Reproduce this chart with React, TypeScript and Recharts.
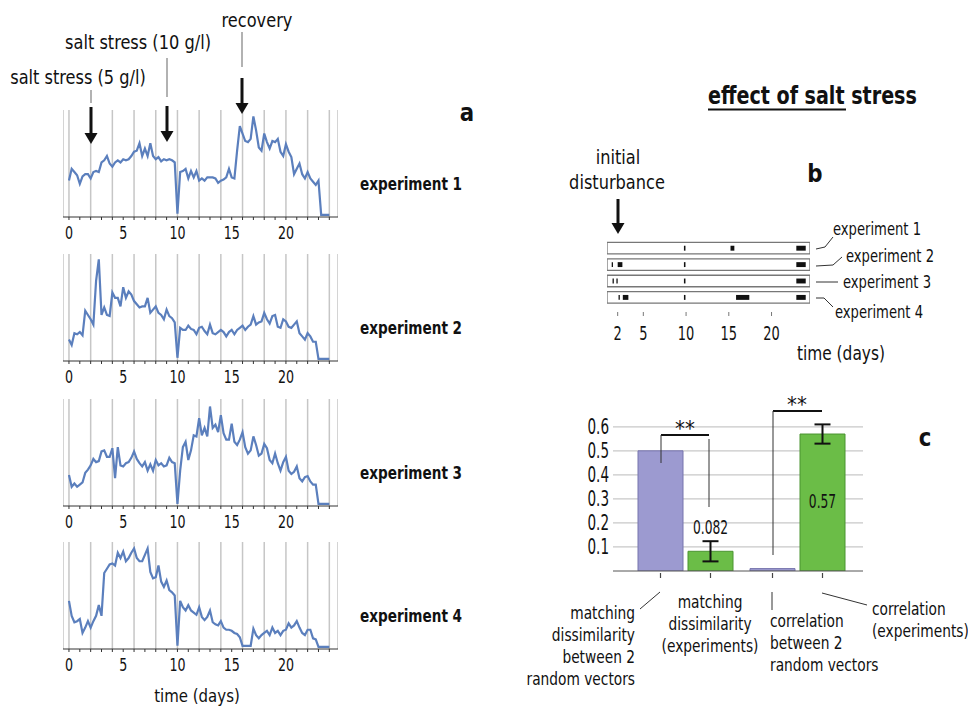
import {
  LineChart,
  Line,
  XAxis,
  YAxis,
  CartesianGrid,
  ComposedChart,
  Scatter,
  ReferenceArea,
  BarChart,
  Bar,
  ErrorBar,
} from "recharts";

const FONT = "'DejaVu Sans Condensed', 'DejaVu Sans', sans-serif";

// panel a: signal per experiment, one value every 6 hours (day 0 .. 24)
const STEP = 0.25;
const experiment1 = [
  34, 45, 42, 39, 31, 38, 40, 40,
  36, 42, 43, 42, 51, 53, 57, 50,
  47, 51, 53, 51, 54, 53, 54, 57,
  61, 62, 69, 57, 64, 57, 69, 57,
  54, 56, 52, 54, 53, 54, 53, 51,
  3, 42, 43, 45, 36, 43, 37, 43,
  34, 36, 34, 37, 37, 37, 36, 32,
  34, 35, 37, 45, 37, 36, 62, 85,
  78, 71, 70, 73, 94, 81, 65, 62,
  78, 70, 64, 71, 70, 73, 61, 57,
  68, 61, 56, 40, 45, 50, 40, 36,
  42, 36, 33, 30, 34, 2, 2, 2,
  2,
];
const experiment2 = [
  20, 15, 26, 25, 27, 24, 47, 43,
  39, 34, 75, 95, 43, 50, 43, 42,
  64, 59, 59, 51, 69, 59, 65, 62,
  56, 53, 50, 51, 51, 59, 45, 48,
  51, 45, 43, 39, 48, 42, 40, 36,
  3, 31, 29, 29, 33, 30, 29, 25,
  31, 32, 28, 25, 34, 26, 25, 27,
  29, 27, 23, 27, 29, 25, 29, 31,
  33, 29, 32, 34, 42, 34, 36, 37,
  45, 39, 35, 42, 43, 32, 31, 39,
  37, 32, 31, 34, 37, 26, 23, 20,
  26, 23, 18, 18, 2, 2, 2, 2,
  2,
];
const experiment3 = [
  29, 18, 21, 18, 20, 22, 31, 34,
  38, 44, 41, 42, 51, 52, 46, 46,
  54, 26, 55, 38, 37, 40, 41, 45,
  51, 44, 40, 37, 41, 33, 39, 33,
  43, 38, 40, 37, 38, 45, 41, 40,
  2, 33, 55, 60, 43, 52, 66, 65,
  82, 66, 73, 65, 93, 73, 76, 69,
  85, 68, 62, 62, 77, 60, 57, 62,
  69, 55, 49, 52, 65, 57, 47, 49,
  58, 54, 43, 40, 49, 40, 33, 41,
  46, 33, 30, 32, 37, 26, 23, 27,
  28, 23, 20, 20, 2, 2, 2, 2,
  2,
];
const experiment4 = [
  45, 31, 25, 26, 28, 15, 20, 26,
  20, 26, 31, 41, 31, 71, 75, 79,
  80, 78, 90, 85, 91, 82, 85, 90,
  94, 85, 82, 82, 88, 94, 72, 66,
  67, 78, 63, 58, 64, 55, 53, 50,
  3, 45, 39, 36, 41, 36, 34, 32,
  39, 30, 27, 30, 36, 25, 23, 22,
  26, 20, 18, 18, 17, 15, 14, 11,
  3, 3, 3, 3, 19, 13, 10, 13,
  15, 17, 13, 20, 15, 17, 13, 17,
  18, 24, 20, 22, 26, 20, 15, 13,
  18, 18, 10, 9, 2, 2, 2, 2,
  2,
];
const traces = [experiment1, experiment2, experiment3, experiment4];
const traceNames = ["experiment 1", "experiment 2", "experiment 3", "experiment 4"];
const dayTicks = [0, 1, 2, 3, 4, 5, 6, 7, 8, 9, 10, 11, 12, 13, 14, 15, 16, 17, 18, 19, 20, 21, 22, 23, 24];
const labelledDays = [0, 5, 10, 15, 20];
const gridDays = [0, 2, 4, 6, 8, 10, 12, 14, 16, 18, 20, 22, 24];

// panel b: detected change points per experiment (days)
const eventSegments = [
  { exp: 1, start: 9.75, end: 9.93 },
  { exp: 1, start: 15.2, end: 15.65 },
  { exp: 1, start: 22.9, end: 24.0 },
  { exp: 2, start: 1.3, end: 1.45 },
  { exp: 2, start: 2.0, end: 2.55 },
  { exp: 2, start: 9.75, end: 9.93 },
  { exp: 2, start: 22.9, end: 24.0 },
  { exp: 3, start: 1.4, end: 1.55 },
  { exp: 3, start: 1.85, end: 2.0 },
  { exp: 3, start: 9.75, end: 9.93 },
  { exp: 3, start: 22.9, end: 24.0 },
  { exp: 4, start: 2.1, end: 2.25 },
  { exp: 4, start: 2.6, end: 3.25 },
  { exp: 4, start: 9.75, end: 9.93 },
  { exp: 4, start: 15.85, end: 17.4 },
  { exp: 4, start: 22.9, end: 24.0 },
];
const experimentRows = [1, 2, 3, 4];
const timelineTicks = [2, 5, 10, 15, 20];

// panel c
const measures = ["matching dissimilarity", "correlation"];
const randomValues = [0.5, 0.01];
const experimentValues = [0.082, 0.57];
const experimentErrors = [0.042, 0.04];
const scoreTicks = [0.1, 0.2, 0.3, 0.4, 0.5, 0.6];
const barCaptions = [
  ["matching", "dissimilarity", "between 2", "random vectors"],
  ["matching", "dissimilarity", "(experiments)"],
  ["correlation", "between 2", "random vectors"],
  ["correlation", "(experiments)"],
];

const scoreData = measures.map((m, i) => ({
  measure: m,
  random: randomValues[i],
  experiments: experimentValues[i],
  err: experimentErrors[i],
}));

const TRACE_AXES = [217, 361, 506, 649];

// narrow text: the original uses a condensed face
function T({ x, y, size, sx = 0.85, anchor = "start", bold = false, children }: any) {
  return (
    <text
      transform={`translate(${x},${y}) scale(${sx},1)`}
      textAnchor={anchor}
      dominantBaseline="central"
      fontSize={size}
      fontWeight={bold ? "bold" : "normal"}
      fontFamily={FONT}
      fill="#111"
    >
      {children}
    </text>
  );
}

function makeTick(size: number, sx: number, fmt: (v: number) => string, anchor: string, dy: number) {
  return (props: any) => {
    const label = fmt(props.payload.value);
    if (!label) return <g />;
    return (
      <T x={props.x} y={props.y + dy} size={size} sx={sx} anchor={anchor}>
        {label}
      </T>
    );
  };
}

const dayTick = makeTick(18.5, 0.76, (d) => (labelledDays.includes(d) ? String(d) : ""), "middle", 8);
const timelineTick = makeTick(19, 0.76, (d) => String(d), "middle", 9);
const scoreTick = makeTick(21.5, 0.7, (v) => v.toFixed(1), "end", 0);

function Trace({ values, axisY }: { values: number[]; axisY: number }) {
  const data = values.map((v, i) => ({ day: i * STEP, v }));
  return (
    <div style={{ position: "absolute", left: 63, top: axisY - 117 }}>
      <LineChart width={275} height={145} data={data} margin={{ top: 10, right: 0, bottom: 0, left: 0 }}>
        <XAxis xAxisId="grid" type="number" dataKey="day" domain={[-0.55, 24.8]} ticks={gridDays} hide />
        <CartesianGrid xAxisId="grid" horizontal={false} stroke="#c6c6c6" strokeWidth={1.5} />
        <XAxis
          type="number"
          dataKey="day"
          domain={[-0.55, 24.8]}
          ticks={dayTicks}
          interval={0}
          height={28}
          tickSize={3}
          tickMargin={5}
          stroke="#333"
          tick={dayTick}
        />
        <YAxis hide domain={[0, 100]} />
        <Line dataKey="v" type="linear" stroke="#5b7fbd" strokeWidth={2.2} dot={false} isAnimationActive={false} />
      </LineChart>
    </div>
  );
}

function Arrow({ x, y1, y2 }: { x: number; y1: number; y2: number }) {
  return (
    <g>
      <line x1={x} y1={y1} x2={x} y2={y2 - 9} stroke="#111" strokeWidth={3} />
      <polygon points={`${x - 6.5},${y2 - 11} ${x + 6.5},${y2 - 11} ${x},${y2}`} fill="#111" />
    </g>
  );
}

const BarFoot = (props: any) => {
  const { x, y, width, height } = props;
  const cx = x + width / 2;
  const base = y + height;
  return <line x1={cx} y1={base + 2} x2={cx} y2={base + 21} stroke="#444" strokeWidth={1.2} strokeDasharray="5 3" />;
};

const ExperimentValue = (props: any) => {
  const { x, y, width, height, index, value } = props;
  const cx = x + width / 2;
  const base = y + height;
  const ty = index === 0 ? y - 24 : y + 67;
  return (
    <g>
      <line x1={cx} y1={base + 2} x2={cx} y2={base + 21} stroke="#444" strokeWidth={1.2} strokeDasharray="5 3" />
      <T x={cx} y={ty} size={19.5} sx={0.7} anchor="middle">
        {String(value)}
      </T>
    </g>
  );
};

export default function App() {
  return (
    <div style={{ position: "absolute", left: 0, top: 0, width: 968, height: 710, background: "#fff", overflow: "hidden" }}>
      {traces.map((t, i) => (
        <Trace key={i} values={t} axisY={TRACE_AXES[i]} />
      ))}

      {/* panel b */}
      <div style={{ position: "absolute", left: 607, top: 240 }}>
        <ComposedChart width={203} height={112} margin={{ top: 0, right: 0, bottom: 0, left: 0 }}>
          <XAxis
            type="number"
            dataKey="x"
            domain={[0.75, 24.5]}
            ticks={timelineTicks}
            interval={0}
            allowDataOverflow
            axisLine={false}
            tickSize={4}
            tickMargin={8}
            height={40}
            stroke="#777"
            tick={timelineTick}
          />
          <YAxis type="number" dataKey="y" domain={[0.5, 4.89]} reversed hide allowDataOverflow />
          {experimentRows.map((r) => (
            <ReferenceArea key={"row" + r} y1={r - 0.35} y2={r + 0.35} fill="#fff" fillOpacity={1} stroke="#777" strokeWidth={1.3} />
          ))}
          {eventSegments.map((s, i) => (
            <ReferenceArea key={"ev" + i} x1={s.start} x2={s.end} y1={s.exp - 0.15} y2={s.exp + 0.15} fill="#111" fillOpacity={1} stroke="none" />
          ))}
          <Scatter
            data={eventSegments.map((s) => ({ x: s.start, y: s.exp }))}
            fill="none"
            shape={() => <g />}
            isAnimationActive={false}
          />
        </ComposedChart>
      </div>

      {/* panel c */}
      <div style={{ position: "absolute", left: 563, top: 415 }}>
        <BarChart
          width={300}
          height={166}
          data={scoreData}
          margin={{ top: 7, right: 0, bottom: 0, left: 0 }}
          barCategoryGap={9}
          barGap={5}
        >
          <CartesianGrid vertical={false} stroke="#c8c8c8" strokeWidth={1.3} syncWithTicks />
          <XAxis dataKey="measure" tick={false} tickLine={false} height={10} padding={{ left: 16, right: 10 }} stroke="#555" />
          <YAxis
            type="number"
            domain={[0, 0.62]}
            allowDataOverflow
            ticks={scoreTicks}
            interval={0}
            axisLine={false}
            tickLine={false}
            tickSize={0}
            tickMargin={4}
            width={50}
            tick={scoreTick}
          />
          <Bar dataKey="random" fill="#9c9ad0" stroke="#7674ad" strokeWidth={1} isAnimationActive={false} label={BarFoot} />
          <Bar dataKey="experiments" fill="#6bbd47" stroke="#4b9431" strokeWidth={1} isAnimationActive={false} label={ExperimentValue}>
            <ErrorBar dataKey="err" width={8} stroke="#111" strokeWidth={2} />
          </Bar>
        </BarChart>
      </div>

      <svg width={968} height={710} style={{ position: "absolute", left: 0, top: 0, pointerEvents: "none" }}>
        {/* panel a annotations */}
        <T x={78} y={77} size={20} sx={0.9} anchor="middle">salt stress (5 g/l)</T>
        <T x={138} y={42} size={20} sx={0.9} anchor="middle">salt stress (10 g/l)</T>
        <T x={257} y={20} size={20} sx={0.9} anchor="middle">recovery</T>
        <line x1={91} y1={90} x2={91} y2={103} stroke="#999" strokeWidth={1.5} />
        <line x1={167} y1={58} x2={167} y2={97} stroke="#999" strokeWidth={1.5} />
        <line x1={242} y1={32} x2={242} y2={67} stroke="#999" strokeWidth={1.5} />
        <Arrow x={91} y1={107} y2={144} />
        <Arrow x={167} y1={106} y2={142} />
        <Arrow x={242} y1={78} y2={114} />
        <T x={467} y={112} size={25} sx={0.95} anchor="middle" bold>a</T>
        {traceNames.map((n, i) => (
          <T key={n} x={360} y={TRACE_AXES[i] - 33} size={17.8} bold>{n}</T>
        ))}
        <T x={197} y={696} size={18.5} sx={0.9} anchor="middle">time (days)</T>

        {/* title */}
        <T x={708} y={95} size={25} bold>effect of salt stress</T>
        <line x1={708} y1={109.5} x2={846} y2={109.5} stroke="#111" strokeWidth={1.8} />

        {/* panel b annotations */}
        <T x={618} y={157} size={20} sx={0.9} anchor="middle">initial</T>
        <T x={617} y={182} size={20} sx={0.9} anchor="middle">disturbance</T>
        <Arrow x={618} y1={199} y2={234} />
        <T x={815} y={173} size={25} sx={0.95} anchor="middle" bold>b</T>
        <T x={833} y={229} size={17.2}>experiment 1</T>
        <T x={846} y={256} size={17.2}>experiment 2</T>
        <T x={843} y={282} size={17.2}>experiment 3</T>
        <T x={835} y={312} size={17.2}>experiment 4</T>
        <polyline points="816,249 825,247 833,237" fill="none" stroke="#333" strokeWidth={1} />
        <polyline points="816,266 833,265 842,257" fill="none" stroke="#333" strokeWidth={1} />
        <polyline points="816,282 838,282" fill="none" stroke="#333" strokeWidth={1} />
        <polyline points="816,298 824,298 833,307" fill="none" stroke="#333" strokeWidth={1} />
        <T x={797} y={353} size={19} sx={0.9}>time (days)</T>

        {/* panel c annotations */}
        <T x={925} y={437} size={25} sx={0.95} anchor="middle" bold>c</T>
        <line x1={661} y1={435} x2={709} y2={435} stroke="#111" strokeWidth={1.8} />
        <line x1={661} y1={435} x2={661} y2={463} stroke="#333" strokeWidth={1} />
        <line x1={709} y1={439} x2={709} y2={507} stroke="#333" strokeWidth={1} />
        <T x={685} y={428} size={22} sx={1} anchor="middle">**</T>
        <line x1={773} y1={411} x2={822} y2={411} stroke="#111" strokeWidth={1.8} />
        <line x1={773} y1={411} x2={773} y2={555} stroke="#333" strokeWidth={1} />
        <T x={797} y={404} size={22} sx={1} anchor="middle">**</T>

        <polyline points="660,592 640,609" fill="none" stroke="#333" strokeWidth={1} />
        <polyline points="772,592 772,610" fill="none" stroke="#333" strokeWidth={1} />
        <polyline points="822,593 867,605" fill="none" stroke="#333" strokeWidth={1} />
        {barCaptions[0].map((s, i) => (
          <T key={"c0" + i} x={635} y={613 + i * 21.7} size={18} anchor="end">{s}</T>
        ))}
        {barCaptions[1].map((s, i) => (
          <T key={"c1" + i} x={710} y={602 + i * 21.7} size={18} anchor="middle">{s}</T>
        ))}
        {barCaptions[2].map((s, i) => (
          <T key={"c2" + i} x={770} y={621 + i * 21.7} size={18}>{s}</T>
        ))}
        {barCaptions[3].map((s, i) => (
          <T key={"c3" + i} x={872} y={609 + i * 21.7} size={18}>{s}</T>
        ))}
      </svg>
    </div>
  );
}
